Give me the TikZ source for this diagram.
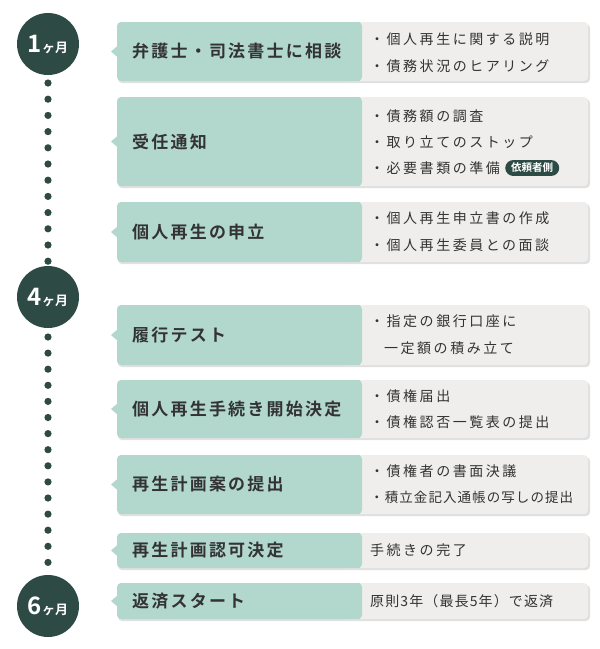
\documentclass[tikz,border=0pt]{standalone}
\usepackage{fontspec}
\setmainfont{Noto Sans CJK JP}
\newfontfamily\jpbold{Noto Sans CJK JP Bold}
\newfontfamily\jpbs[LetterSpace=13]{Noto Sans CJK JP Bold}
\newfontfamily\jpis[LetterSpace=18]{Noto Sans CJK JP}
\newfontfamily\jpisn[LetterSpace=8]{Noto Sans CJK JP}
\definecolor{teal}{HTML}{B2D8CE}
\definecolor{grayb}{HTML}{EFEEEC}
\definecolor{dark}{HTML}{2E4A44}
\definecolor{txt}{HTML}{333333}
\begin{document}
\begin{tikzpicture}[x=1pt,y=-1pt,
  month/.style={circle,fill=dark,minimum size=62pt,inner sep=0pt,text=white},
  ttl/.style={anchor=west,font=\jpbs\fontsize{17}{17}\selectfont,text=txt,inner sep=0pt},
  itm/.style={anchor=west,font=\jpis\fontsize{14}{14}\selectfont,text=txt,inner sep=0pt},
  tag/.style={rounded corners=8pt,fill=dark,text=white,font=\jpbold\fontsize{10.5}{10.5}\selectfont,inner xsep=6pt,inner ysep=3pt}]
\useasboundingbox (0,0) rectangle (600,649);
\newcommand\row[5]{%
  \fill[black!12,rounded corners=4pt] (118,#1+2) rectangle (590,#2+2);
  \fill[grayb,rounded corners=4pt] (340,#1) rectangle (588,#2);
  \fill[teal,rounded corners=4pt] (117,#1) rectangle (362,#2);
  \fill[teal] (340,#1) rectangle (360,#2);
  \fill[teal] (118,{(#1+#2)/2-6}) -- (111,{(#1+#2)/2}) -- (118,{(#1+#2)/2+6}) -- cycle;
  \node[ttl] (#3) at (132,{(#1+#2)/2}) {#4};
  #5}
\row{22}{81}{r1}{弁護士・司法書士に相談}{
  \node[itm] (r1a) at (370,39) {・個人再生に関する説明};
  \node[itm] (r1b) at (370,66) {・債務状況のヒアリング};}
\row{97}{186}{r2}{受任通知}{
  \node[itm] (r2a) at (370,116) {・債務額の調査};
  \node[itm] (r2b) at (370,142) {・取り立てのストップ};
  \node[itm] (r2c) at (370,168) {・必要書類の準備};
  \node[tag,anchor=west] (r2t) at ([xshift=5pt]r2c.east) {依頼者側};}
\row{202}{262}{r3}{個人再生の申立}{
  \node[itm] (r3a) at (370,218) {・個人再生申立書の作成};
  \node[itm] (r3b) at (370,245) {・個人再生委員との面談};}
\row{305}{365}{r4}{履行テスト}{
  \node[itm] (r4a) at (370,321) {・指定の銀行口座に};
  \node[itm] (r4b) at (370,348) {\hspace*{1em}一定額の積み立て};}
\row{380}{438}{r5}{個人再生手続き開始決定}{
  \node[itm] (r5a) at (370,396) {・債権届出};
  \node[itm] (r5b) at (370,422) {・債権認否一覧表の提出};}
\row{455}{514}{r6}{再生計画案の提出}{
  \node[itm] (r6a) at (370,471) {・債権者の書面決議};
  \node[itm,font=\jpisn\fontsize{13.5}{14}\selectfont] (r6b) at (370,497) {・積立金記入通帳の写しの提出};}
\row{533}{568}{r7}{再生計画認可決定}{
  \node[itm] (r7a) at (370,550.5) {手続きの完了};}
\row{583}{619}{r8}{返済スタート}{
  \node[itm,font=\jpisn\fontsize{14}{14}\selectfont] (r8a) at (370,601) {原則3年（最長5年）で返済};}
\foreach \y in {0,...,11} \fill[dark] (48,{83+\y*16.2}) circle (3.6);
\foreach \y in {0,...,14} \fill[dark] (48,{337+\y*16.1}) circle (3.6);
\node[month] (m1) at (48,44) {\jpbold\fontsize{24}{24}\selectfont 1\fontsize{13}{13}\selectfont ヶ月};
\node[month] (m4) at (48,297) {\jpbold\fontsize{24}{24}\selectfont 4\fontsize{13}{13}\selectfont ヶ月};
\node[month] (m6) at (48,606) {\jpbold\fontsize{24}{24}\selectfont 6\fontsize{13}{13}\selectfont ヶ月};
\end{tikzpicture}
\end{document}
